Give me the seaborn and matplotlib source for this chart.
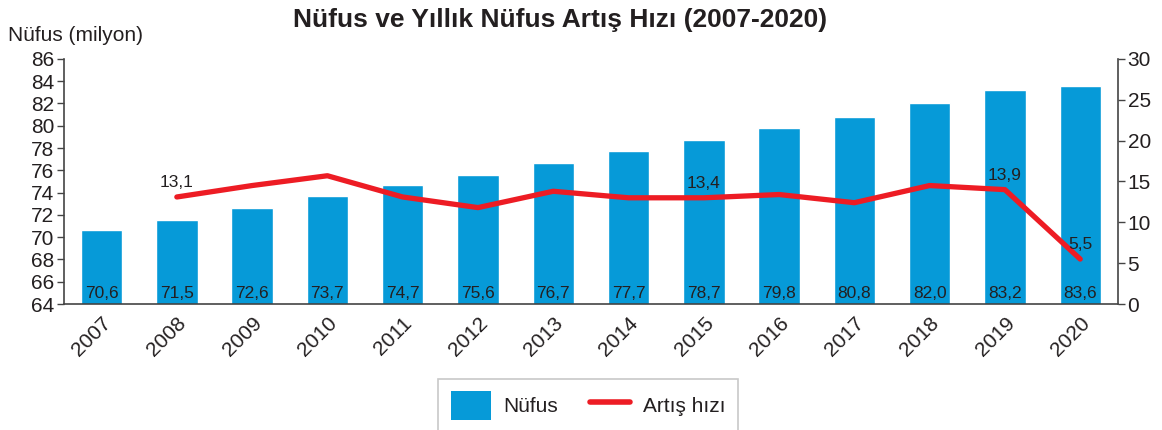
import numpy as np
import pandas as pd
import seaborn as sns
import matplotlib.pyplot as plt
from matplotlib.patches import Patch
from matplotlib.lines import Line2D

years = ["2007", "2008", "2009", "2010", "2011", "2012", "2013",
         "2014", "2015", "2016", "2017", "2018", "2019", "2020"]
population = [70.6, 71.5, 72.6, 73.7, 74.7, 75.6, 76.7,
              77.7, 78.7, 79.8, 80.8, 82.0, 83.2, 83.6]
pop_labels = ["70,6", "71,5", "72,6", "73,7", "74,7", "75,6", "76,7",
              "77,7", "78,7", "79,8", "80,8", "82,0", "83,2", "83,6"]
rate_years = ["2008", "2009", "2010", "2011", "2012", "2013", "2014",
              "2015", "2016", "2017", "2018", "2019", "2020"]
growth_rate = [13.1, 14.5, 15.7, 13.1, 11.8, 13.8, 13.0,
               13.0, 13.4, 12.4, 14.5, 14.0, 5.5]
rate_labels = {"2008": "13,1", "2015": "13,4", "2019": "13,9", "2020": "5,5"}

BLUE = "#069AD8"
RED = "#ED1C24"
TXT = "#231F20"

sns.set_style("white")
plt.rcParams["font.family"] = ["Liberation Sans", "DejaVu Sans"]

pop_df = pd.DataFrame({"year": years, "pop": population})
pos = {y: i for i, y in enumerate(years)}
rate_df = pd.DataFrame({"x": [pos[y] for y in rate_years], "rate": growth_rate})

fig = plt.figure(figsize=(11.62, 4.30), dpi=100)
ax = fig.add_axes([0.055, 0.293, 0.907, 0.570])

sns.barplot(data=pop_df, x="year", y="pop", color=BLUE, saturation=1,
            width=0.55, ax=ax)
ax.set_ylim(64, 86)
ax.set_yticks(range(64, 87, 2))
ax.set_xlim(-0.5, 13.5)
for i, lab in enumerate(pop_labels):
    ax.text(i, 64.25, lab, ha="center", va="bottom", fontsize=12.5, color=TXT)

ax2 = ax.twinx()
sns.lineplot(data=rate_df, x="x", y="rate", color=RED, linewidth=3.8,
             ax=ax2, legend=False)
ax2.set_ylim(0, 30)
ax2.set_yticks(range(0, 31, 5))
for y, lab in rate_labels.items():
    i = pos[y]
    ax2.annotate(lab, (i, growth_rate[rate_years.index(y)]), xytext=(0, 5),
                 textcoords="offset points", ha="center", va="bottom",
                 fontsize=12.5, color=TXT)

# axes styling
for a in (ax, ax2):
    a.spines["top"].set_visible(False)
    for s in ("left", "right", "bottom"):
        a.spines[s].set_color("#444444")
        a.spines[s].set_linewidth(1.2)
    a.set_xlabel("")
    a.set_ylabel("")
ax.spines["right"].set_visible(False)
ax2.spines["left"].set_visible(False)
ax2.spines["bottom"].set_visible(False)

ax.tick_params(axis="y", direction="out", length=5, width=1, colors="#444444",
               labelsize=15, labelcolor=TXT, pad=2)
ax2.tick_params(axis="y", direction="out", length=5, width=1, colors="#444444",
                labelsize=15, labelcolor=TXT, pad=2)
ax.set_xticks(range(len(years)))
ax.set_xticklabels(years, rotation=45, ha="right", rotation_mode="anchor",
                   fontsize=15, color=TXT)
ax.tick_params(axis="x", which="major", length=0, pad=7)
ax.set_xticks(np.arange(len(years)) + 0.5, minor=True)
ax.tick_params(axis="x", which="minor", direction="out", length=6, width=1,
               colors="#444444")
ax2.set_xlim(-0.5, 13.5)

fig.text(0.482, 0.953, "Nüfus ve Yıllık Nüfus Artış Hızı (2007-2020)",
         ha="center", va="center", fontsize=19, fontweight="bold", color=TXT)
fig.text(0.007, 0.918, "Nüfus (milyon)", ha="left", va="center",
         fontsize=15, color=TXT)

handles = [Patch(facecolor=BLUE, edgecolor="none", label="Nüfus"),
           Line2D([0], [0], color=RED, linewidth=4, solid_capstyle="round",
                  label="Artış hızı")]
leg = fig.legend(handles=handles, loc="upper center",
                 bbox_to_anchor=(0.506, 0.143), ncol=2, frameon=True,
                 fancybox=False, fontsize=15, handlelength=1.95,
                 handleheight=1.7, columnspacing=1.5, handletextpad=0.6,
                 borderpad=0.6, labelcolor=TXT)
leg.get_frame().set_edgecolor("#BBBBBB")
leg.get_frame().set_linewidth(1.2)

fig.savefig("out.png", dpi=100)
